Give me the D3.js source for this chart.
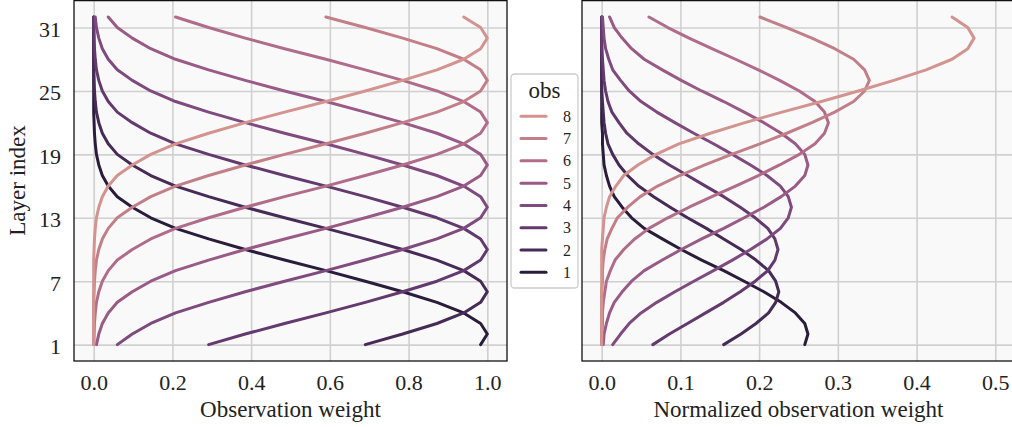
<!DOCTYPE html>
<html><head><meta charset="utf-8">
<script src="https://cdn.jsdelivr.net/npm/d3@7"></script>
<style>
html,body{margin:0;padding:0;background:#fff;}
svg{display:block;}
svg text{font-family:"Liberation Serif",serif;}
</style></head><body>
<svg id="chart" width="1012" height="427"></svg>
<script>
// ---------------- data ----------------
const layers = [1,2,3,4,5,6,7,8,9,10,11,12,13,14,15,16,17,18,19,20,21,22,23,24,25,26,27,28,29,30,31,32];
const obsLabels = [1,2,3,4,5,6,7,8];

// Observation weight (left panel), one value per layer 1..32
const weightObs1 = [0.983,1.000,0.983,0.940,0.872,0.785,0.690,0.590,0.485,0.385,0.292,0.208,0.145,0.098,0.060,0.037,0.022,0.013,0.007,0.004,0.002,0.001,0,0,0,0,0,0,0,0,0,0];
const weightObs2 = [0.690,0.785,0.872,0.940,0.983,1.000,0.983,0.940,0.872,0.785,0.690,0.590,0.485,0.385,0.292,0.208,0.145,0.098,0.060,0.037,0.022,0.013,0.007,0.004,0.002,0.001,0,0,0,0,0,0];
const weightObs3 = [0.292,0.385,0.485,0.590,0.690,0.785,0.872,0.940,0.983,1.000,0.983,0.940,0.872,0.785,0.690,0.590,0.485,0.385,0.292,0.208,0.145,0.098,0.060,0.037,0.022,0.013,0.007,0.004,0.002,0.001,0,0];
const weightObs4 = [0.060,0.098,0.145,0.208,0.292,0.385,0.485,0.590,0.690,0.785,0.872,0.940,0.983,1.000,0.983,0.940,0.872,0.785,0.690,0.590,0.485,0.385,0.292,0.208,0.145,0.098,0.060,0.037,0.022,0.013,0.007,0.004];
const weightObs5 = [0.007,0.013,0.022,0.037,0.060,0.098,0.145,0.208,0.292,0.385,0.485,0.590,0.690,0.785,0.872,0.940,0.983,1.000,0.983,0.940,0.872,0.785,0.690,0.590,0.485,0.385,0.292,0.208,0.145,0.098,0.060,0.037];
const weightObs6 = [0,0.001,0.002,0.004,0.007,0.013,0.022,0.037,0.060,0.098,0.145,0.208,0.292,0.385,0.485,0.590,0.690,0.785,0.872,0.940,0.983,1.000,0.983,0.940,0.872,0.785,0.690,0.590,0.485,0.385,0.292,0.208];
const weightObs7 = [0,0,0,0,0,0.001,0.002,0.004,0.007,0.013,0.022,0.037,0.060,0.098,0.145,0.208,0.292,0.385,0.485,0.590,0.690,0.785,0.872,0.940,0.983,1.000,0.983,0.940,0.872,0.785,0.690,0.590];
const weightObs8 = [0,0,0,0,0,0,0,0,0,0.001,0.002,0.004,0.007,0.013,0.022,0.037,0.060,0.098,0.145,0.208,0.292,0.385,0.485,0.590,0.690,0.785,0.872,0.940,0.983,1.000,0.983,0.940];

// Normalized observation weight (right panel)
const normObs1 = [0.258,0.262,0.258,0.246,0.228,0.206,0.181,0.155,0.127,0.101,0.077,0.054,0.038,0.026,0.016,0.010,0.006,0.003,0.002,0.001,0.001,0,0,0,0,0,0,0,0,0,0,0];
const normObs2 = [0.155,0.177,0.196,0.212,0.221,0.225,0.221,0.212,0.196,0.177,0.155,0.133,0.109,0.087,0.066,0.047,0.033,0.022,0.014,0.008,0.005,0.003,0.002,0.001,0,0,0,0,0,0,0,0];
const normObs3 = [0.065,0.086,0.109,0.132,0.155,0.176,0.195,0.211,0.220,0.224,0.220,0.211,0.195,0.176,0.155,0.132,0.109,0.086,0.065,0.047,0.032,0.022,0.013,0.008,0.005,0.003,0.002,0.001,0,0,0,0];
const normObs4 = [0.014,0.024,0.035,0.050,0.070,0.093,0.117,0.142,0.166,0.189,0.210,0.227,0.237,0.241,0.237,0.227,0.210,0.189,0.166,0.142,0.117,0.093,0.070,0.050,0.035,0.024,0.014,0.009,0.005,0.003,0.002,0.001];
const normObs5 = [0.002,0.003,0.006,0.010,0.016,0.026,0.038,0.054,0.077,0.101,0.127,0.155,0.181,0.206,0.228,0.246,0.258,0.262,0.258,0.246,0.228,0.206,0.181,0.155,0.127,0.101,0.077,0.054,0.038,0.026,0.016,0.010];
const normObs6 = [0,0,0.001,0.001,0.002,0.004,0.006,0.011,0.017,0.028,0.042,0.060,0.084,0.111,0.140,0.170,0.199,0.226,0.251,0.271,0.283,0.288,0.283,0.271,0.251,0.226,0.199,0.170,0.140,0.111,0.084,0.060];
const normObs7 = [0,0,0,0,0,0,0.001,0.001,0.002,0.004,0.007,0.013,0.020,0.033,0.049,0.071,0.099,0.131,0.165,0.201,0.235,0.267,0.296,0.320,0.334,0.340,0.334,0.320,0.296,0.267,0.235,0.201];
const normObs8 = [0,0,0,0,0,0,0,0,0,0,0.001,0.002,0.003,0.006,0.010,0.018,0.028,0.046,0.069,0.098,0.138,0.182,0.229,0.279,0.326,0.371,0.412,0.445,0.465,0.473,0.465,0.445];

const xTicksLeft = [0.0,0.2,0.4,0.6,0.8,1.0];
const xTicksRight = [0.0,0.1,0.2,0.3,0.4,0.5];
const yTicks = [1,7,13,19,25,31];
const obsColors = ["#2a1d3c","#462b57","#633a6e","#7f4a7e","#9a5a86","#b06c88","#c37f89","#d3938f"];

// ---------------- drawing ----------------
const svg = d3.select('#chart');
const FONT = 22;
const LABEL_FONT = 23;
const FAM = '"Liberation Serif",serif';
const y = d3.scaleLinear().domain([-0.55, 33.55]).range([361, 0.6]);

const panels = [
  { id: 'left', x: d3.scaleLinear().domain([-0.05, 1.05]).range([74, 507]),
    series: [weightObs1,weightObs2,weightObs3,weightObs4,weightObs5,weightObs6,weightObs7,weightObs8],
    ticks: xTicksLeft, label: 'Observation weight', showY: true },
  { id: 'right', x: d3.scaleLinear().domain([-0.025, 0.525]).range([582, 1015]),
    series: [normObs1,normObs2,normObs3,normObs4,normObs5,normObs6,normObs7,normObs8],
    ticks: xTicksRight, label: 'Normalized observation weight', showY: false }
];

const defs = svg.append('defs');

panels.forEach(p => {
  const [x0, x1] = p.x.range();
  const [yb, yt] = y.range();
  const g = svg.append('g');

  defs.append('clipPath').attr('id', 'clip-' + p.id)
    .append('rect').attr('x', x0).attr('y', yt).attr('width', x1 - x0).attr('height', yb - yt);

  g.append('rect').attr('x', x0).attr('y', yt).attr('width', x1 - x0).attr('height', yb - yt)
    .attr('fill', '#f9f9f9');

  // grid
  const gx = g.append('g').attr('transform', `translate(0,${yb})`)
    .call(d3.axisBottom(p.x).tickValues(p.ticks).tickSize(-(yb - yt)).tickFormat(''));
  const gy = g.append('g').attr('transform', `translate(${x0},0)`)
    .call(d3.axisLeft(y).tickValues(yTicks).tickSize(-(x1 - x0)).tickFormat(''));
  [gx, gy].forEach(a => {
    a.select('.domain').remove();
    a.selectAll('line').attr('stroke', '#d0d0d0').attr('stroke-width', 1.6);
  });

  // lines
  const line = d3.line().x(d => p.x(d[1])).y(d => y(d[0]));
  const lg = g.append('g').attr('clip-path', `url(#clip-${p.id})`);
  p.series.forEach((vals, i) => {
    lg.append('path')
      .datum(layers.map((l, j) => [l, vals[j]]))
      .attr('d', line)
      .attr('fill', 'none')
      .attr('stroke', obsColors[i])
      .attr('stroke-width', 3)
      .attr('stroke-linecap', 'round')
      .attr('stroke-linejoin', 'round');
  });

  // spines
  g.append('rect').attr('x', x0).attr('y', yt).attr('width', x1 - x0).attr('height', yb - yt)
    .attr('fill', 'none').attr('stroke', '#111').attr('stroke-width', 1.3);

  // tick labels
  const ax = g.append('g').attr('transform', `translate(0,${yb})`)
    .call(d3.axisBottom(p.x).tickValues(p.ticks).tickSize(0).tickPadding(0).tickFormat(d3.format('.1f')));
  ax.attr('font-family', FAM);
  ax.select('.domain').remove();
  ax.selectAll('text').attr('y', 28.5).attr('dy', null)
    .attr('font-size', FONT).attr('font-family', FAM).attr('fill', '#222');

  if (p.showY) {
    const ay = g.append('g').attr('transform', `translate(${x0},0)`)
      .call(d3.axisLeft(y).tickValues(yTicks).tickSize(0).tickPadding(13));
    ay.attr('font-family', FAM);
    ay.select('.domain').remove();
    ay.selectAll('text').attr('dy', null).attr('y', 9)
      .attr('font-size', FONT).attr('font-family', FAM).attr('fill', '#222');
  }

  g.append('text').attr('x', (x0 + x1) / 2).attr('y', 417)
    .attr('text-anchor', 'middle').attr('font-size', LABEL_FONT).attr('font-family', FAM).attr('fill', '#222')
    .text(p.label);
});

svg.append('text')
  .attr('transform', 'translate(24.5,180.5) rotate(-90)')
  .attr('text-anchor', 'middle').attr('font-size', LABEL_FONT).attr('font-family', FAM).attr('fill', '#222')
  .text('Layer index');

// legend
const leg = svg.append('g');
leg.append('rect').attr('x', 511).attr('y', 74).attr('width', 67).attr('height', 214)
  .attr('rx', 3.5).attr('fill', '#ffffff').attr('stroke', '#cccccc').attr('stroke-width', 1.3);
leg.append('text').attr('x', 544.5).attr('y', 98).attr('text-anchor', 'middle')
  .attr('font-size', LABEL_FONT).attr('font-family', FAM).attr('fill', '#222').text('obs');
const legOrder = obsLabels.slice().reverse();
const legY = d3.scalePoint().domain(legOrder).range([116.3, 272.3]);
legOrder.forEach(k => {
  const yy = legY(k);
  leg.append('line').attr('x1', 521).attr('x2', 546).attr('y1', yy).attr('y2', yy)
    .attr('stroke', obsColors[k - 1]).attr('stroke-width', 3).attr('stroke-linecap', 'round');
  leg.append('text').attr('x', 563).attr('y', yy + 5.5).attr('font-size', 16).attr('font-family', FAM).attr('fill', '#222')
    .text(k);
});
</script>
</body></html>
